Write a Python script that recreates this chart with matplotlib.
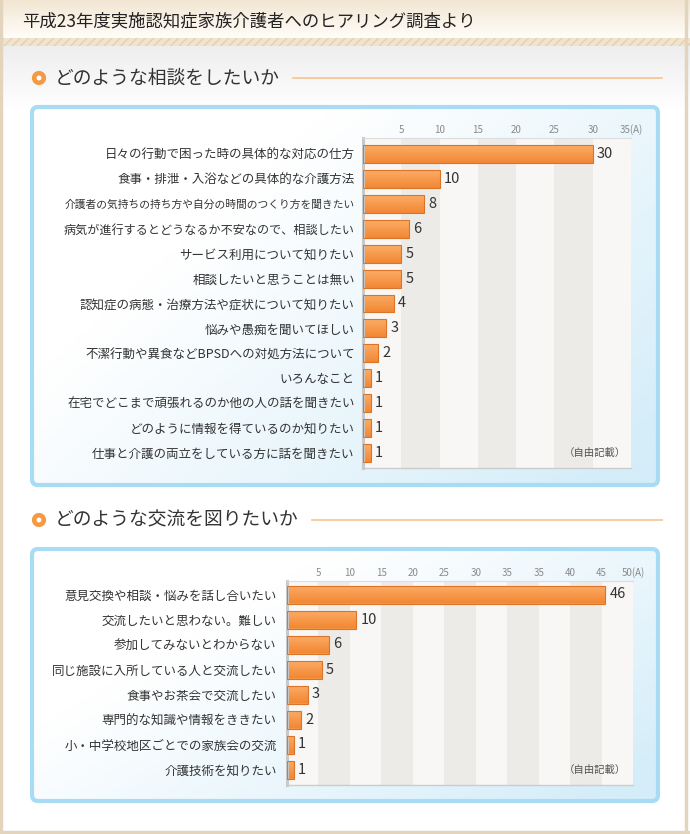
import numpy as np
import matplotlib
matplotlib.use("agg")
from matplotlib import pyplot as plt
from matplotlib.colors import to_rgb
from matplotlib.patches import FancyBboxPatch, Rectangle, Circle

plt.rcParams['font.family'] = ['Noto Sans CJK JP', 'DejaVu Sans']

title = "平成23年度実施認知症家族介護者へのヒアリング調査より"
note = "（自由記載）"

q1_title = "どのような相談をしたいか"
q1_labels = [
    "日々の行動で困った時の具体的な対応の仕方",
    "食事・排泄・入浴などの具体的な介護方法",
    "介護者の気持ちの持ち方や自分の時間のつくり方を聞きたい",
    "病気が進行するとどうなるか不安なので、相談したい",
    "サービス利用について知りたい",
    "相談したいと思うことは無い",
    "認知症の病態・治療方法や症状について知りたい",
    "悩みや愚痴を聞いてほしい",
    "不潔行動や異食などBPSDへの対処方法について",
    "いろんなこと",
    "在宅でどこまで頑張れるのか他の人の話を聞きたい",
    "どのように情報を得ているのか知りたい",
    "仕事と介護の両立をしている方に話を聞きたい",
]
q1_values = [30, 10, 8, 6, 5, 5, 4, 3, 2, 1, 1, 1, 1]
q1_ticklabels = ["5", "10", "15", "20", "25", "30", "35(A)"]
q1_max = 35

q2_title = "どのような交流を図りたいか"
q2_labels = [
    "意見交換や相談・悩みを話し合いたい",
    "交流したいと思わない。難しい",
    "参加してみないとわからない",
    "同じ施設に入所している人と交流したい",
    "食事やお茶会で交流したい",
    "専門的な知識や情報をききたい",
    "小・中学校地区ごとでの家族会の交流",
    "介護技術を知りたい",
]
q2_values = [46, 10, 6, 5, 3, 2, 1, 1]
q2_ticklabels = ["5", "10", "15", "20", "25", "30", "35", "35", "40", "45", "50(A)"]
q2_max = 50

W, H = 690, 834
fig = plt.figure(figsize=(W / 100, H / 100), dpi=100)
fig.patch.set_facecolor("white")

bg = fig.add_axes([0, 0, 1, 1])
bg.set_xlim(0, W)
bg.set_ylim(H, 0)
bg.axis("off")


def ramp(c0, c1, t):
    c0, c1 = np.array(to_rgb(c0)), np.array(to_rgb(c1))
    return c0 + (c1 - c0) * t[..., None]


def vgrad(ax, x0, x1, y0, y1, ctop, cbot, z=0, clip=None):
    t = np.linspace(0, 1, 64)[:, None]
    img = ramp(ctop, cbot, t)
    im = ax.imshow(img, extent=(x0, x1, y1, y0), aspect="auto", zorder=z,
                   interpolation="bilinear")
    if clip is not None:
        im.set_clip_path(clip)
    return im


# page header
vgrad(bg, 0, W, 0, 38, "#f2e6d2", "#fffdf9", z=0)
stripe = Rectangle((0, 38), W, 8, facecolor="#f1e4cf", edgecolor="#e4d0b0",
                   hatch="////", linewidth=0, zorder=1)
bg.add_patch(stripe)
vgrad(bg, 0, W, 46, 110, "#eeeeee", "#ffffff", z=0)
bg.add_patch(Rectangle((0, 0), 1.5, H, color="#e3d4bd", zorder=2))
bg.add_patch(Rectangle((685, 0), 2, H, color="#e3d4bd", zorder=2))
bg.add_patch(Rectangle((0, 831), W, 3, color="#e3d4bd", zorder=2))
bg.text(22, 21, title, fontsize=12.5, va="center", ha="left", color="#222222", zorder=3)


def section(y, text, line_x0, box_y0, box_y1):
    bg.add_patch(Circle((39, y), 4.8, facecolor="white", edgecolor="#f59a44",
                        linewidth=3.3, zorder=3))
    bg.text(55, y, text, fontsize=13.5, va="center", ha="left", color="#333333", zorder=3)
    bg.plot([line_x0, 662], [y, y], color="#f8c291", linewidth=1.2, zorder=3)
    box = FancyBboxPatch((32, box_y0 + 2), 626, box_y1 - box_y0 - 4,
                         boxstyle="round,pad=0,rounding_size=6",
                         facecolor="none", edgecolor="#a8dcf4", linewidth=3, zorder=2)
    bg.add_patch(box)
    u = np.linspace(0, 1, 200)[None, :]
    v = np.linspace(0, 1, 100)[:, None]
    t = np.clip((u - 0.35) * 0.9 + (v - 0.2) * 0.6, 0, 1)
    im = bg.imshow(ramp("#ffffff", "#d4edf9", t), extent=(32, 658, box_y1 - 2, box_y0 + 2),
                   aspect="auto", zorder=1, interpolation="bilinear")
    im.set_clip_path(box)


section(78, q1_title, 293, 105, 487)
section(520, q2_title, 312, 547, 803)
bg.set_xlim(0, W)
bg.set_ylim(H, 0)


def chart(x0, y0, x1, y1, labels, values, ticklabels, xmax, top_m, bot_m, pad, maxw):
    ax = fig.add_axes([x0 / W, 1 - y1 / H, (x1 - x0) / W, (y1 - y0) / H])
    n = len(labels)
    y = np.arange(n)
    edges = np.linspace(0, xmax, len(ticklabels) + 1)
    ax.set_facecolor("#f8f7f5")
    for i in range(len(ticklabels)):
        if i % 2 == 1:
            ax.axvspan(edges[i], edges[i + 1], color="#ecebe8", zorder=0, linewidth=0)

    bars = ax.barh(y, values, height=0.72, color="#f6963f", linewidth=0, zorder=2)
    t = np.linspace(0, 1, 32)[:, None]
    grad = ramp("#fbac66", "#f28834", t)
    for b in bars:
        im = ax.imshow(grad, extent=(b.get_x(), b.get_x() + b.get_width(),
                                     b.get_y() + b.get_height(), b.get_y()),
                       aspect="auto", zorder=2.5, interpolation="bilinear")
        im.set_clip_path(b)
    ax.barh(y, values, height=0.72, fill=False, edgecolor="#dc7428", linewidth=0.8, zorder=3)

    for yi, v in zip(y, values):
        ax.annotate(str(v), (v, yi), xytext=(3, 0), textcoords="offset points",
                    va="center", ha="left", fontsize=10.5, color="#333333", zorder=4)
    ax.text(xmax * 0.98, n - 1, note, ha="right", va="center", fontsize=7.5,
            color="#555555", zorder=4)

    ax.set_xlim(0, xmax)
    ax.set_ylim(n - 1 + bot_m, -top_m)
    ax.set_yticks(y)
    ax.set_yticklabels(labels, fontsize=9, color="#333333")
    ax.tick_params(axis="y", length=0, pad=pad)
    ax.xaxis.tick_top()
    ax.set_xticks(edges[1:])
    ax.set_xticklabels(ticklabels, fontsize=7, color="#8a8a8a")
    ax.tick_params(axis="x", length=0, pad=2)
    ax.spines["right"].set_visible(False)
    ax.spines["left"].set_color("#c9c9c9")
    ax.spines["left"].set_linewidth(2.2)
    ax.spines["top"].set_color("#dddddd")
    ax.spines["top"].set_linewidth(0.8)
    ax.spines["bottom"].set_color("#cccccc")
    ax.spines["bottom"].set_linewidth(1)

    # the longest label is squeezed in the original
    r = fig.canvas.get_renderer()
    for lab in ax.get_yticklabels():
        w = lab.get_window_extent(r).width
        if w > maxw:
            lab.set_fontsize(9 * maxw / w)
    return ax


chart(363, 138, 631, 468, q1_labels, q1_values, q1_ticklabels, q1_max, 0.64, 0.6, 6, 290)
chart(287, 581, 633, 785, q2_labels, q2_values, q2_ticklabels, q2_max, 0.54, 0.62, 7.5, 260)

fig.savefig("out.png", dpi=100)
